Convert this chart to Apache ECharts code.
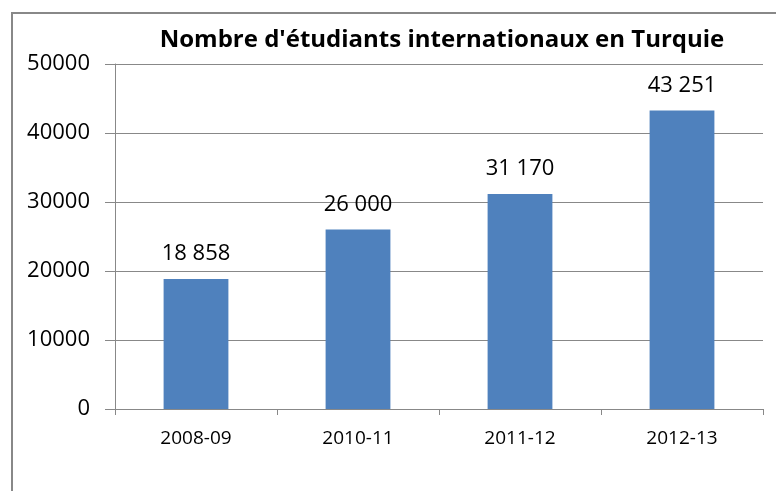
<!DOCTYPE html>
<html>
<head>
<meta charset="utf-8">
<script src="https://cdn.jsdelivr.net/npm/echarts@6/dist/echarts.min.js"></script>
<style>
  html, body { margin: 0; padding: 0; background: #fff; }
  #chart { width: 776px; height: 491px; }
</style>
</head>
<body>
<div id="chart"></div>
<script>
  // données du graphique
  const categories = ['2008-09', '2010-11', '2011-12', '2012-13'];
  const students = [18858, 26000, 31170, 43251];
  const yTicks = [0, 10000, 20000, 30000, 40000, 50000];

  const fontFam = '"Open Sans", sans-serif';
  const chart = echarts.init(document.getElementById('chart'));

  const option = {
    animation: false,
    backgroundColor: '#fff',
    title: {
      text: "Nombre d'étudiants internationaux en Turquie",
      left: 437,
      textAlign: 'center',
      top: 23,
      textStyle: { fontFamily: fontFam, fontSize: 24, fontWeight: 'bold', color: '#000' }
    },
    graphic: [{
      type: 'rect',
      shape: { x: 12, y: 13, width: 900, height: 600 },
      style: { fill: 'none', stroke: '#888', lineWidth: 2 },
      silent: true
    }],
    grid: { left: 115, right: 13, top: 64, bottom: 82 },
    xAxis: {
      type: 'category',
      data: categories,
      axisLine: { lineStyle: { color: '#888', width: 1 } },
      axisTick: { show: true, length: 6, alignWithLabel: false, lineStyle: { color: '#888' } },
      axisLabel: { fontFamily: fontFam, fontSize: 19, color: '#000', margin: 20 }
    },
    yAxis: {
      type: 'value',
      min: yTicks[0],
      max: yTicks[yTicks.length - 1],
      interval: 10000,
      axisLine: { show: true, lineStyle: { color: '#888', width: 1 } },
      axisTick: { show: true, length: 10, lineStyle: { color: '#888' } },
      splitLine: { lineStyle: { color: '#888', width: 1 } },
      axisLabel: {
        fontFamily: fontFam, fontSize: 22, color: '#000', margin: 25,
        formatter: v => String(v)
      }
    },
    series: [{
      type: 'bar',
      data: students,
      barWidth: '40%',
      itemStyle: { color: '#4f81bd' },
      label: {
        show: true,
        position: 'top',
        distance: 14,
        fontFamily: fontFam,
        fontSize: 22,
        color: '#000',
        formatter: p => String(p.value).replace(/\B(?=(\d{3})+(?!\d))/g, ' ')
      }
    }]
  };
  chart.setOption(option);
</script>
</body>
</html>
